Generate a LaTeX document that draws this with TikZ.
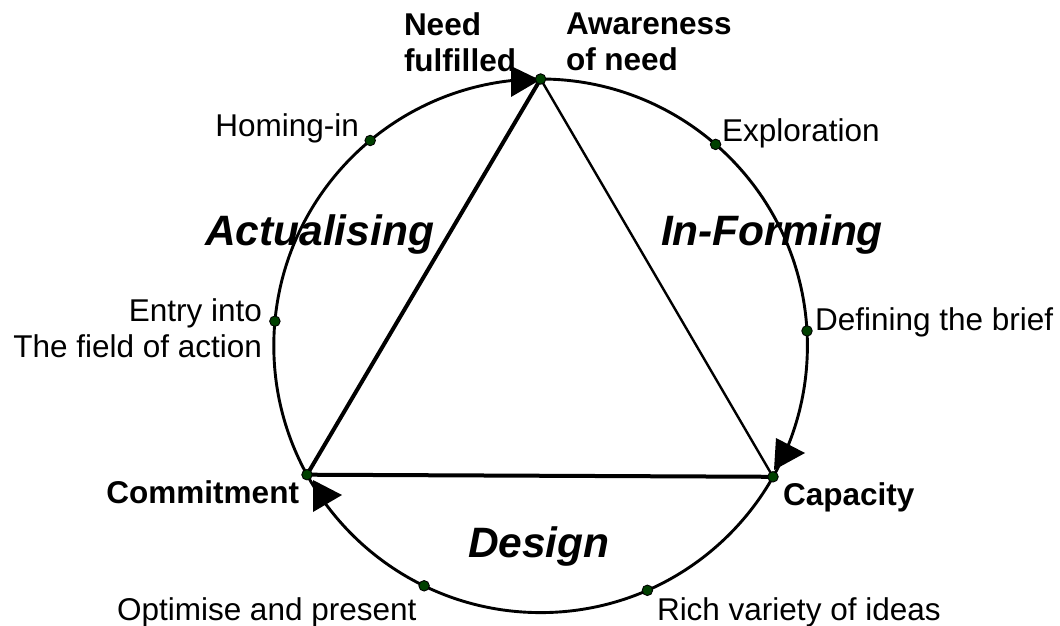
\documentclass[tikz,border=0pt]{standalone}
\usepackage{fontspec}
\setmainfont{Liberation Sans}
\usetikzlibrary{backgrounds}
\begin{document}
\begin{tikzpicture}[x=1pt,y=1pt,
  dot/.style={circle,draw=black,fill=dotColor,line width=0.9pt,inner sep=0pt,minimum size=10.5pt},
  lbl/.style={inner sep=0pt,outer sep=0pt,font=\fontsize{31.5}{36}\selectfont},
  boldlbl/.style={lbl,font=\fontsize{31.5}{36}\selectfont\bfseries},
  phaselbl/.style={inner sep=0pt,outer sep=0pt,font=\fontsize{42.5}{48}\selectfont\bfseries\itshape}]
\definecolor{dotColor}{RGB}{0,64,0}
\definecolor{drawColor}{RGB}{0,0,0}
\path[use as bounding box] (0,0) rectangle (1060,625);

% points on the cycle
\coordinate (centre) at (540.6,279.2);
\node[dot] (aware) at (540.6,546.0) {};
\node[dot] (homing) at (370.2,484.5) {};
\node[dot] (explore) at (715.6,480.6) {};
\node[dot] (entry) at (274.9,303.8) {};
\node[dot] (brief) at (807.0,294.1) {};
\node[dot] (commit) at (307.0,150.3) {};
\node[dot] (capacity) at (773.0,148.2) {};
\node[dot] (optimise) at (424.1,39.2) {};
\node[dot] (rich) at (647.4,34.7) {};

\begin{scope}[on background layer]
% outer cycle
\draw[draw=drawColor,line width=2.9pt] (centre) circle (266.8);

% triangle
\draw[draw=drawColor,line width=4pt,line cap=round] (commit.center) -- (aware.center);
\draw[draw=drawColor,line width=2.4pt,line cap=round] (aware.center) -- (capacity.center);
\draw[draw=drawColor,line width=4pt,line cap=round] (capacity.center) -- (commit.center);

% arrow heads on the cycle
\path[fill=drawColor] (511,559) -- (540,545) -- (511,528) -- cycle;
\path[fill=drawColor] (776,187) -- (805,172) -- (774,155) -- cycle;
\path[fill=drawColor] (313,145) -- (342,130) -- (313,113) -- cycle;
\end{scope}

% stage labels
\node[boldlbl,align=left,anchor=north west] (needTxt) at (404,612) {Need\\fulfilled};
\node[boldlbl,align=left,anchor=north west] (awareTxt) at (566,612) {Awareness\\of need};
\node[boldlbl,anchor=base east] (commitTxt) at (299,122) {Commitment};
\node[boldlbl,anchor=base west] (capacityTxt) at (783,120) {Capacity};

% step labels
\node[lbl,anchor=base east] (homingTxt) at (359,488) {Homing-in};
\node[lbl,anchor=base west] (exploreTxt) at (722,483) {Exploration};
\node[lbl,align=right,anchor=north east] (entryTxt) at (262,326) {Entry into\\The field of action};
\node[lbl,anchor=base west] (briefTxt) at (815,295) {Defining the brief};
\node[lbl,anchor=base west] (optimiseTxt) at (117,5) {Optimise and present};
\node[lbl,anchor=base west] (richTxt) at (657,5) {Rich variety of ideas};

% phase labels
\node[phaselbl,anchor=base west] (actTxt) at (205,380) {Actualising};
\node[phaselbl,anchor=base west] (informTxt) at (661,380) {In-Forming};
\node[phaselbl,anchor=base west] (designTxt) at (468,68) {Design};
\end{tikzpicture}
\end{document}
